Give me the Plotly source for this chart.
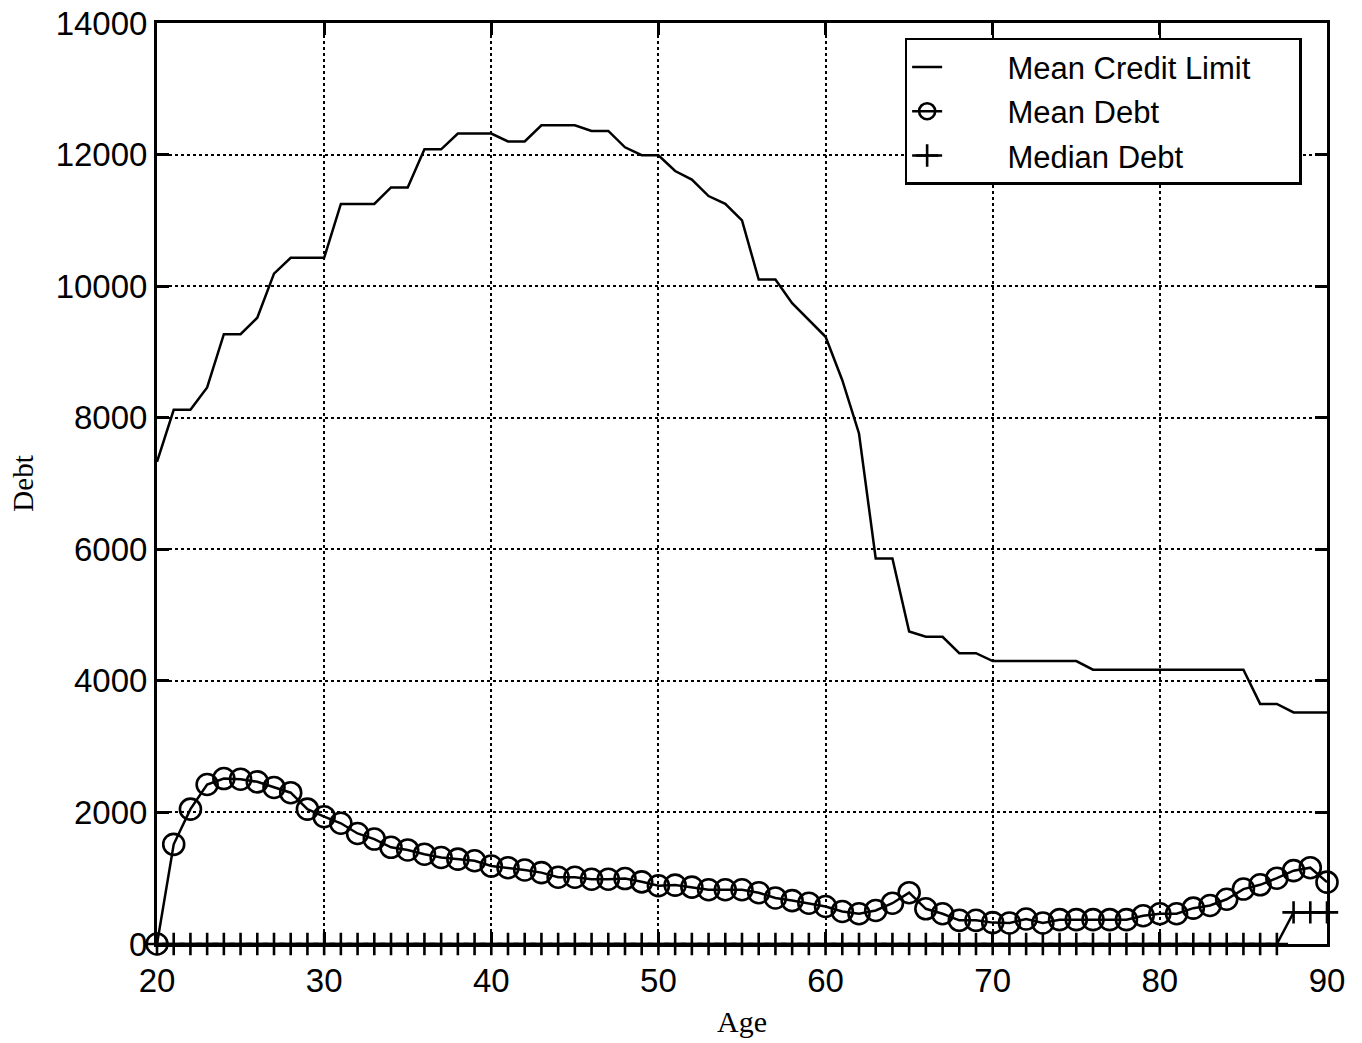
import plotly.graph_objects as go

ages = list(range(20, 91))

credit_limit = [
    7330, 8120, 8120, 8460, 9270, 9270, 9520, 10190, 10430, 10430,   # 20-29
    10430, 11250, 11250, 11250, 11500, 11500, 12080, 12080, 12320, 12320,  # 30-39
    12320, 12200, 12200, 12445, 12445, 12445, 12360, 12360, 12110, 11990,  # 40-49
    11990, 11750, 11620, 11370, 11250, 11000, 10100, 10100, 9740, 9490,  # 50-59
    9230, 8570, 7760, 5860, 5860, 4750, 4670, 4670, 4420, 4420,  # 60-69
    4300, 4300, 4300, 4300, 4300, 4300, 4170, 4170, 4170, 4170,  # 70-79
    4170, 4170, 4170, 4170, 4170, 4170, 3650, 3650, 3520, 3520,  # 80-89
    3520,  # 90
]

mean_debt = [
    0, 1515, 2050, 2425, 2515, 2505, 2465, 2380, 2300, 2050,  # 20-29
    1935, 1835, 1680, 1595, 1470, 1430, 1365, 1315, 1290, 1265,  # 30-39
    1185, 1160, 1125, 1085, 1015, 1015, 985, 985, 995, 945,  # 40-49
    885, 895, 865, 825, 825, 825, 780, 700, 660, 620,  # 50-59
    570, 495, 460, 510, 620, 780, 535, 460, 360, 360,  # 60-69
    325, 320, 380, 320, 370, 370, 370, 370, 370, 430,  # 70-79
    460, 460, 545, 585, 680, 835, 900, 1000, 1115, 1160,  # 80-89
    940,  # 90
]

median_debt = [0] * 68 + [480, 480, 480]

x_ticks = [20, 30, 40, 50, 60, 70, 80, 90]
y_ticks = [0, 2000, 4000, 6000, 8000, 10000, 12000, 14000]

series_names = ["Mean Credit Limit", "Mean Debt", "Median Debt"]
lead = "\u00a0" * 7
trail = "\u00a0" * 5

fig = go.Figure()
fig.add_trace(go.Scatter(
    x=ages, y=credit_limit, mode="lines", name=lead + series_names[0] + trail,
    line=dict(color="black", width=2.5), legendgroup="a",
))
fig.add_trace(go.Scatter(
    x=ages, y=mean_debt, mode="lines+markers", name=lead + series_names[1],
    line=dict(color="black", width=2.5),
    marker=dict(symbol="circle-open", size=21, color="black", line=dict(width=2.6, color="black")),
    cliponaxis=False, legendgroup="b",
))
fig.add_trace(go.Scatter(
    x=ages, y=median_debt, mode="lines+markers", name=lead + series_names[2],
    line=dict(color="black", width=2.5),
    marker=dict(symbol="cross-thin", size=16, color="black", line=dict(width=2.6, color="black")),
    cliponaxis=False, legendgroup="c",
))

axis_common = dict(
    showline=True, linecolor="black", linewidth=3, mirror="allticks",
    ticks="inside", ticklen=12, tickwidth=2.5, tickcolor="black",
    showgrid=True, gridcolor="black", gridwidth=2, griddash="dot",
    zeroline=False, automargin=False,
    tickfont=dict(family="Liberation Sans, Arial, sans-serif", size=33, color="black"),
)

fig.update_xaxes(
    range=[20, 90], tickvals=x_ticks, ticktext=[str(v) for v in x_ticks],
    ticklabelstandoff=5,
    title=dict(text="Age", font=dict(family="Liberation Serif, Times New Roman, serif", size=30, color="black"), standoff=14),
    **axis_common,
)
fig.update_yaxes(
    range=[0, 14000], tickvals=y_ticks, ticktext=[str(v) for v in y_ticks],
    title=dict(text="Debt", font=dict(family="Liberation Serif, Times New Roman, serif", size=29, color="black"), standoff=14),
    **axis_common,
)

fig.update_layout(
    width=1362, height=1043,
    margin=dict(l=157, r=35, t=23, b=99),
    paper_bgcolor="white", plot_bgcolor="white",
    showlegend=True,
    legend=dict(
        x=0.639, y=0.984, xanchor="left", yanchor="top",
        bgcolor="white", bordercolor="black", borderwidth=2.5,
        font=dict(family="Liberation Sans, Arial, sans-serif", size=31, color="black"),
        traceorder="grouped", tracegroupgap=1,
    ),
)

fig.write_html("out.html")
